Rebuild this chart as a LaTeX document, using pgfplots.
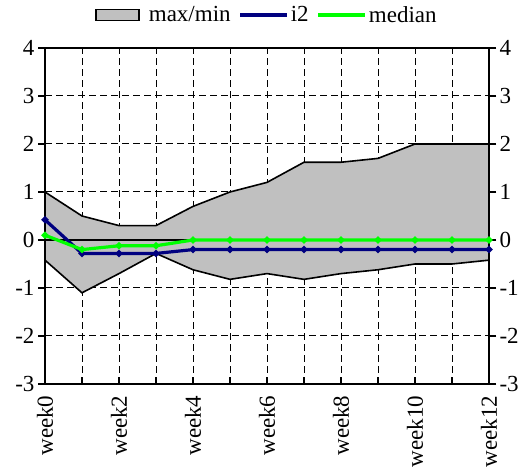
\documentclass[border=0pt]{standalone}
\usepackage{pgfplots}
\pgfplotsset{compat=1.18}
\usepackage{fontspec}
\setmainfont{Liberation Serif}
\newfontfamily\testserif{DejaVu Serif}
\definecolor{areagray}{RGB}{192,192,192}
\definecolor{navyline}{RGB}{0,0,128}
\definecolor{limeline}{RGB}{0,255,0}
\pgfplotsset{
  linelegend/.style={legend image code/.code={\draw[##1] (0pt,0pt) -- (47pt,0pt);}},
  boxlegend/.style={legend image code/.code={\draw[##1, line width=1.4pt] (0pt,-5.5pt) rectangle (43pt,5.5pt); \path (50pt,0pt);}},
}
\begin{document}
\begin{tikzpicture}
\begin{axis}[
  scale only axis,
  width=444pt, height=336pt,
  xmin=0, xmax=12, ymin=-3, ymax=4,
  xtick={0,...,12},
  xticklabels={week0,,week2,,week4,,week6,,week8,,week10,,week12},
  x tick label style={rotate=90, anchor=east, font=\fontsize{23}{25}\selectfont\rmfamily, xshift=-8pt},
  ytick={-3,...,4},
  y tick label style={font=\fontsize{23}{25}\selectfont\rmfamily},
  /pgf/number format/assume math mode=true,
  ymajorgrids, xmajorgrids,
  grid style={black, dash pattern=on 7pt off 4pt, line width=1pt},
  axis line style={black, line width=1.4pt},
  tick style={black, line width=1.2pt},
  major tick length=7pt,
  xtick align=inside,
  ytick align=outside,
  ytick pos=both,
  xtick pos=bottom,
  yticklabel pos=left,
  extra y ticks={-3,...,4},
  extra y tick style={yticklabel pos=right, grid=none, ytick align=outside},
  extra y tick labels={-3,-2,-1,0,1,2,3,4},
  legend style={at={(0.5,1.098)}, anchor=center, draw=none, fill=none, legend columns=3,
    font=\fontsize{23}{25}\selectfont\rmfamily, /tikz/every even column/.append style={column sep=6pt},
    inner sep=0pt},
  linelegend,
  legend cell align=left,
  clip=false,
]
\addplot[fill=areagray, draw=black, line width=1.6pt, boxlegend] coordinates {
 (0,1.0) (1,0.5) (2,0.3) (3,0.3) (4,0.7) (5,1.0) (6,1.2) (7,1.62) (8,1.62) (9,1.7) (10,2.0) (11,2.0) (12,2.0)
 (12,-0.42) (11,-0.5) (10,-0.5) (9,-0.62) (8,-0.7) (7,-0.82) (6,-0.7) (5,-0.82) (4,-0.62) (3,-0.28) (2,-0.7) (1,-1.1) (0,-0.42)
} -- cycle;
\addlegendentry{max/min}
\addplot[black, line width=1.4pt, forget plot] coordinates {(0,0) (12,0)};
\addplot[navyline, line width=3.2pt, mark=*, mark size=1.6pt] coordinates {
 (0,0.42) (1,-0.28) (2,-0.28) (3,-0.28) (4,-0.2) (5,-0.2) (6,-0.2) (7,-0.2) (8,-0.2) (9,-0.2) (10,-0.2) (11,-0.2) (12,-0.2)
};
\addlegendentry{i2}
\addplot[limeline, line width=3.2pt, mark=*, mark size=1.6pt] coordinates {
 (0,0.1) (1,-0.2) (2,-0.12) (3,-0.12) (4,0) (5,0) (6,0) (7,0) (8,0) (9,0) (10,0) (11,0) (12,0)
};
\addlegendentry{median}
\path (rel axis cs:0,0) ++(-45pt,-88pt);
\path (rel axis cs:1,1) ++(41pt,48pt);
\end{axis}
\end{tikzpicture}
\end{document}
